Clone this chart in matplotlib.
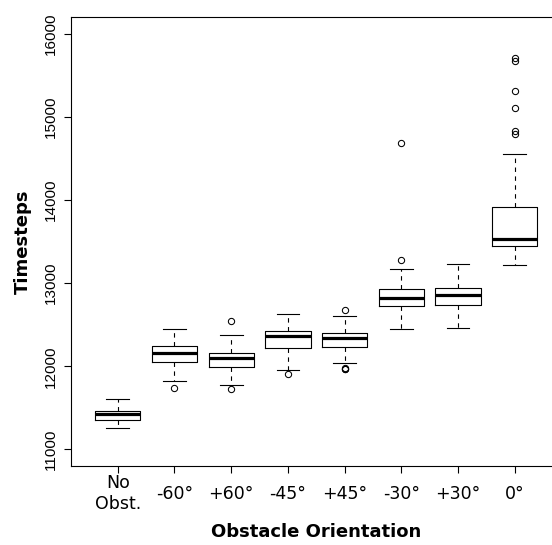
import matplotlib
matplotlib.use("Agg")
import matplotlib.pyplot as plt

categories = ["No\nObst.", "-60°", "+60°", "-45°", "+45°", "-30°", "+30°", "0°"]
whislo = [11252, 11825, 11776, 11952, 12036, 12452, 12460, 13216]
q1 = [11357, 12056, 11996, 12220, 12236, 12724, 12740, 13448]
med = [11420, 12156, 12096, 12364, 12336, 12820, 12856, 13532]
q3 = [11456, 12245, 12156, 12424, 12404, 12932, 12948, 13912]
whishi = [11604, 12452, 12376, 12632, 12600, 13176, 13228, 14560]
fliers = [
    [],
    [11736],
    [12540, 11732],
    [11912],
    [12672, 11980, 11968, 11972],
    [14690, 13280],
    [],
    [15710, 15670, 15312, 15113, 14832, 14796],
]
yticks = [11000, 12000, 13000, 14000, 15000, 16000]

stats = []
for i in range(len(categories)):
    stats.append(dict(whislo=whislo[i], q1=q1[i], med=med[i], q3=q3[i],
                      whishi=whishi[i], fliers=fliers[i]))

fig = plt.figure(figsize=(5.52, 5.45), dpi=100)
ax = fig.add_axes([71.3 / 552, 1 - 466 / 545, 489.9 / 552, (466 - 17.3) / 545])

ax.bxp(stats, positions=range(1, len(categories) + 1), widths=0.8,
       boxprops=dict(color="black", linewidth=0.8),
       medianprops=dict(color="black", linewidth=2.3, solid_capstyle="butt"),
       whiskerprops=dict(color="black", linewidth=0.8, linestyle=(0, (4, 4))),
       capprops=dict(color="black", linewidth=0.8),
       capwidths=0.4,
       flierprops=dict(marker="o", markerfacecolor="none", markeredgecolor="black",
                       markersize=4.5, markeredgewidth=0.75, linestyle="none"),
       showfliers=True)

ax.set_xlim(0.18, 8.82)
ax.set_ylim(10800, 16200)
ax.set_xticks(range(1, len(categories) + 1))
ax.set_xticklabels(categories, fontfamily="DejaVu Sans", fontsize=12.5, linespacing=1.2)
for lab in ax.get_xticklabels():
    lab.set_va("center")
ax.tick_params(axis="x", length=5, width=0.8, pad=15)

ax.set_yticks(yticks)
ax.set_yticklabels([str(t) for t in yticks], rotation=90, va="center",
                   fontfamily="Liberation Sans", fontsize=11)
ax.tick_params(axis="y", length=5, width=0.8, pad=5)

ax.set_xlabel("Obstacle Orientation", fontfamily="DejaVu Sans", fontweight="bold",
              fontsize=13)
ax.set_ylabel("Timesteps", fontfamily="DejaVu Sans", fontweight="bold",
              fontsize=13)
ax.yaxis.set_label_coords(-(71.3 - 23) / 489.9, 0.5)
ax.yaxis.label.set_va("center")
ax.xaxis.set_label_coords(0.5, -(532 - 466) / 448.7)
ax.xaxis.label.set_va("center")

ax.spines["right"].set_visible(False)
for s in ax.spines.values():
    s.set_linewidth(0.8)

fig.savefig("out.png", dpi=100)
